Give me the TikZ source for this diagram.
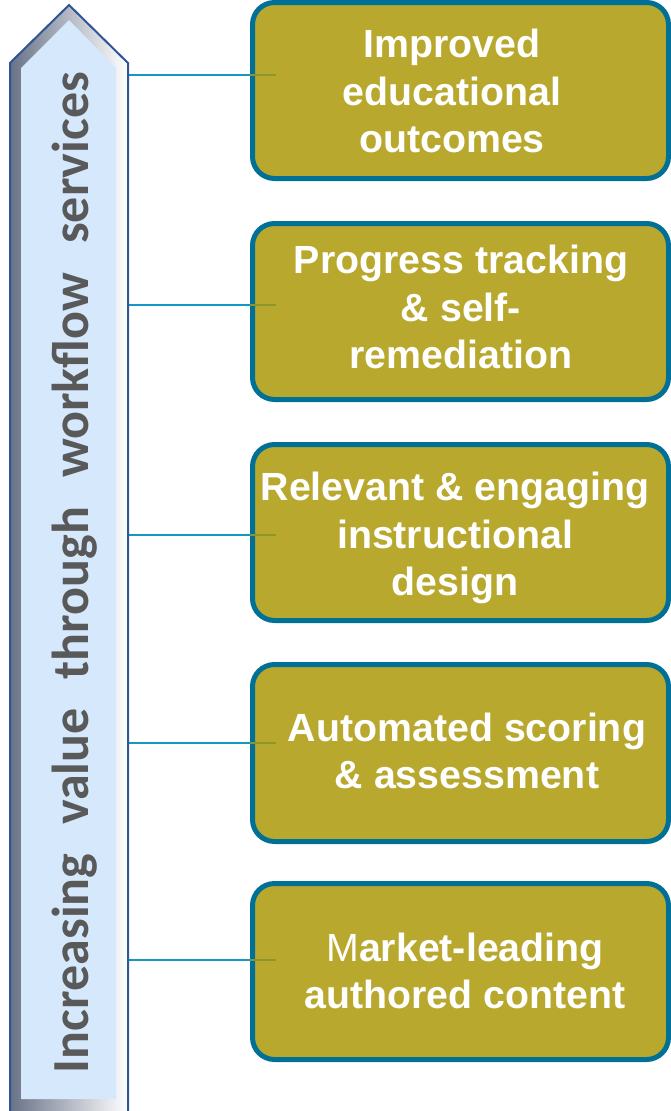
\documentclass[tikz,border=0pt]{standalone}
\usepackage{fontspec}
\usetikzlibrary{backgrounds}
\setmainfont{Liberation Sans}
\newfontfamily\carlito{Carlito}
\definecolor{boxfill}{RGB}{185,168,46}
\definecolor{boxline}{RGB}{0,112,150}
\definecolor{connc}{RGB}{20,150,200}
\definecolor{olivec}{RGB}{140,150,45}
\definecolor{arrowfill}{RGB}{213,232,252}
\definecolor{arrowline}{RGB}{47,85,150}
\definecolor{arrowtext}{RGB}{89,89,89}
\definecolor{bevel}{RGB}{105,115,135}
\begin{document}
\begin{tikzpicture}[x=1pt,y=-1pt,
  vbox/.style={draw=boxline, fill=boxfill, line width=5pt, rounded corners=22pt,
    minimum width=416pt, minimum height=176pt, inner sep=0pt},
  lbl/.style={text=white, font=\bfseries\fontsize{39.3}{47.5}\selectfont, align=center, inner sep=0pt},
  connline/.style={draw=connc, line width=2pt},
  innerline/.style={draw=olivec, line width=2pt}]
\useasboundingbox (0,0) rectangle (671,1111);
% arrow
\shade[left color=bevel, right color=white] (10,1114) -- (10,63) -- (69,5) -- (128,63) -- (128,1114) -- cycle;
\fill[arrowfill] (21,1099) -- (21,68) -- (69,20) -- (116,68) -- (116,1099) -- cycle;
\draw[arrowline, line width=2pt, line join=miter] (10,1114) -- (10,63) -- (69,5) -- (128,63) -- (128,1114);
\node[text=arrowtext, rotate=90, anchor=base, inner sep=0pt,
  font=\carlito\bfseries\fontsize{52}{60}\selectfont] (arrowlbl) at (88,572.5)
  {\makebox[1001pt][s]{Increasing value through workflow services}};
% connector start points on the arrow edge
\coordinate (c1) at (128,75);
\coordinate (c2) at (128,305);
\coordinate (c3) at (128,535);
\coordinate (c4) at (128,743);
\coordinate (c5) at (128,960);
% boxes
\node[vbox] (b1) at (460.5,90.5) {};
\node[vbox] (b2) at (460.5,311.5) {};
\node[vbox] (b3) at (460.5,532.5) {};
\node[vbox, minimum height=177pt] (b4) at (460.5,753) {};
\node[vbox] (b5) at (460.5,971.5) {};
% connectors
\begin{scope}[on background layer]
\foreach \i in {1,...,5} {
  \draw[connline] (c\i) -- (b\i.west |- c\i);
}
\end{scope}
\foreach \i in {1,...,5} {
  \draw[innerline] (b\i.west |- c\i) -- ++(26,0);
}
% labels
\node[lbl] (t1) at (452,91) {Improved\\educational\\outcomes};
\node[lbl] (t2) at (461,307) {Progress tracking\\\& self-\\remediation};
\node[lbl] (t3) at (455,538) {Relevant \& engaging\\instructional\\design};
\node[lbl] (t4) at (467,751) {Automated scoring\\\& assessment};
\node[lbl] (t5) at (465,971) {{\mdseries M}arket-leading\\authored content};
\end{tikzpicture}
\end{document}
